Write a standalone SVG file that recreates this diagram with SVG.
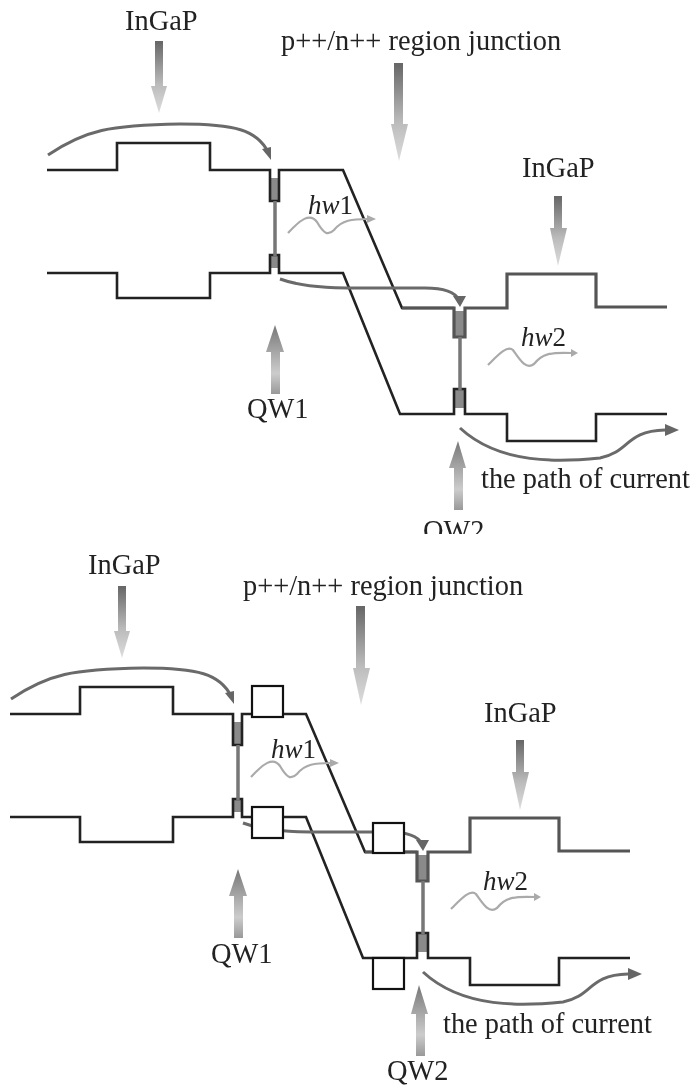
<svg xmlns="http://www.w3.org/2000/svg" width="697" height="1090" viewBox="0 0 697 1090">
<style>
.band{fill:none;stroke:#222;stroke-width:2.6;stroke-linejoin:miter}
.bandg{fill:none;stroke:#555;stroke-width:3.2}
.well{fill:#8a8a8a}
.bar{fill:none;stroke:#777;stroke-width:3.5}
.cur{fill:none;stroke:#6a6a6a;stroke-width:3}
.curh{fill:#666}
.wave{fill:none;stroke:#aaa;stroke-width:2.2}
.waveh{fill:#aaa}
.t{font-family:"Liberation Serif","Times New Roman",serif;font-size:28.4px;fill:#222}
.h{font-size:27px}
.i{font-style:italic}
.box{fill:#fff;stroke:#111;stroke-width:2.2}
.dn{fill:url(#gd)}
.up{fill:url(#gu)}
</style>
<defs>
<linearGradient id="gd" x1="0" y1="0" x2="0" y2="1"><stop offset="0" stop-color="#666"/><stop offset="0.6" stop-color="#bbb"/><stop offset="1" stop-color="#ddd"/></linearGradient>
<linearGradient id="gu" x1="0" y1="0" x2="0" y2="1"><stop offset="0" stop-color="#777"/><stop offset="0.7" stop-color="#ccc"/><stop offset="1" stop-color="#999"/></linearGradient>
<filter id="soft" x="-5%" y="-5%" width="110%" height="110%"><feGaussianBlur stdDeviation="0.55"/></filter>
<g id="bands">
<path class="well" d="M271 178h7v23h-7z"/>
<path class="well" d="M271 256h7v12h-7z"/>
<path class="well" d="M455 311h9v26h-9z"/>
<path class="well" d="M455 390h9v18h-9z"/>
<path class="band" d="M47 170H117V143H210V170H270V201H279V170H343L402 308H454"/>
<path class="band" d="M47 273H117V298H210V273H270V255H279V273H343L400 414H454V389H465V414H507V441H596V414H667"/>
<path class="bandg" d="M402 308H454V337H465V308H507V274H596V307H667"/>
<path class="bar" d="M275 201V256M460 337V390"/>
<path class="cur" d="M48 155C85 130 110 125 180 124C235 124 257 130 268 152"/>
<path class="curh" d="M262 149L271 147L271 160Z"/>
<path class="cur" d="M280 279C310 290 350 288 425 288C445 288 455 292 459 300"/>
<path class="curh" d="M453 296L466 296L460 307Z"/>
<path class="cur" d="M460 428C500 465 560 462 600 458C630 452 625 431 665 430"/>
<path class="curh" d="M665 424L679 430L665 436Z"/>
<path class="wave" d="M288 233C300 220 310 212 317 222C324 234 328 236 334 230C342 220 352 219 368 219"/>
<path class="waveh" d="M367 215L376 219L367 223Z"/>
<path class="wave" d="M488 365C498 355 507 345 513 350C520 360 526 370 534 364C542 354 550 352 572 353"/>
<path class="waveh" d="M571 349L578 353L571 357Z"/>
</g>
</defs>
<rect width="697" height="1090" fill="#fff"/>
<g id="connectors" filter="url(#soft)">
<use href="#bands"/>
<use href="#bands" x="-37" y="544"/>
</g>
<g id="top-labels" filter="url(#soft)">
<text class="t" x="125" y="30">InGaP</text>
<path class="dn" d="M155 41H163V86H167L159 113L151 86H155Z"/>
<text class="t" x="281" y="50">p++/n++ region junction</text>
<path class="dn" d="M394 63H403V124H408L399 161L391 124H394Z"/>
<text class="t" x="522" y="177">InGaP</text>
<path class="dn" d="M554 196H562V228H567L558 266L550 228H554Z"/>
<text class="t h" x="308" y="214"><tspan class="i">hw</tspan>1</text>
<text class="t h" x="521" y="346"><tspan class="i">hw</tspan>2</text>
<path class="up" d="M275 325L284 352H280V394H271V352H266Z"/>
<text class="t" x="247" y="418">QW1</text>
<path class="up" d="M458 441L466 468H463V510H454V468H449Z"/>
<text class="t" x="481" y="488">the path of current</text>
<text class="t" x="423" y="540">OW2</text>
<rect x="415" y="534" width="80" height="12" fill="#fff"/>
</g>
<g id="bottom-labels" filter="url(#soft)">
<text class="t" x="88" y="574">InGaP</text>
<path class="dn" d="M118 586H126V631H130L122 658L114 631H118Z"/>
<text class="t" x="243" y="595">p++/n++ region junction</text>
<path class="dn" d="M356 606H365V668H370L361 705L353 668H356Z"/>
<text class="t" x="484" y="722">InGaP</text>
<path class="dn" d="M516 740H524V772H529L520 810L512 772H516Z"/>
<text class="t h" x="271" y="758"><tspan class="i">hw</tspan>1</text>
<text class="t h" x="483" y="890"><tspan class="i">hw</tspan>2</text>
<path class="up" d="M238 869L247 896H243V938H234V896H229Z"/>
<text class="t" x="211" y="963">QW1</text>
<path class="up" d="M419 985L428 1014H425V1056H416V1014H411Z"/>
<text class="t" x="443" y="1033">the path of current</text>
<text class="t" x="387" y="1080">QW2</text>
</g>
<g id="box1"><rect class="box" x="252" y="686" width="31" height="31"/></g>
<g id="box2"><rect class="box" x="252" y="807" width="31" height="31"/></g>
<g id="box3"><rect class="box" x="373" y="823" width="31" height="30"/></g>
<g id="box4"><rect class="box" x="373" y="958" width="31" height="31"/></g>
</svg>
